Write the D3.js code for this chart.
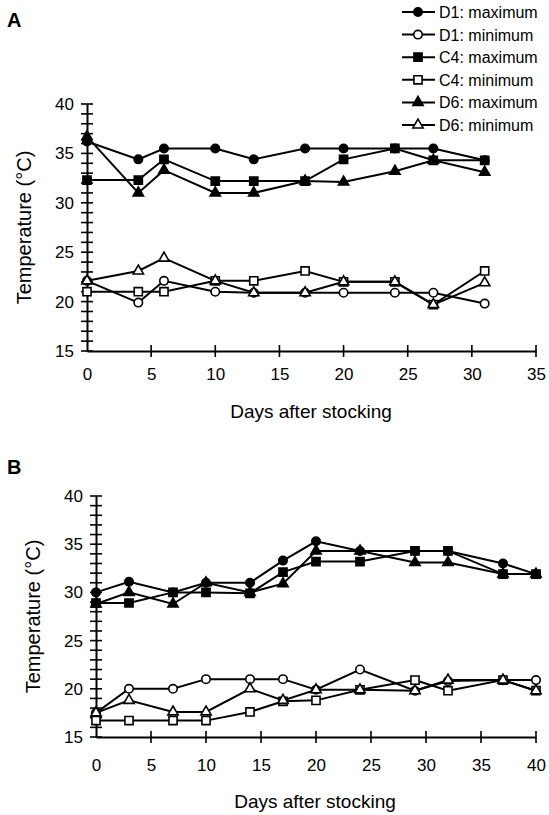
<!DOCTYPE html>
<html>
<head>
<meta charset="utf-8">
<script src="https://d3js.org/d3.v7.min.js"></script>
<style>
  body { margin: 0; background: #fff; }
  svg { font-family: "Liberation Sans", Arial, Helvetica, sans-serif; }
</style>
</head>
<body>
<div id="my_dataviz"></div>
<script>
// data
const seriesNames = ["D1: maximum", "D1: minimum", "C4: maximum", "C4: minimum", "D6: maximum", "D6: minimum"];
const seriesShapes = ["circle", "circle", "square", "square", "triangle", "triangle"];
const seriesFilled = [true, false, true, false, true, false];

// panel A
const daysA = [0, 4, 6, 10, 13, 17, 20, 24, 27, 31];
const aD1max = [36.2, 34.4, 35.5, 35.5, 34.4, 35.5, 35.5, 35.5, 35.5, 34.3];
const aD1min = [22.1, 19.9, 22.1, 21.0, 20.9, 20.9, 20.9, 20.9, 20.9, 19.8];
const aC4max = [32.3, 32.3, 34.4, 32.2, 32.2, 32.2, 34.4, 35.5, 34.3, 34.3];
const aC4min = [21.0, 21.0, 21.0, 22.1, 22.1, 23.1, 22.0, 22.0, 19.7, 23.1];
const aD6max = [36.7, 31.0, 33.3, 31.0, 31.0, 32.2, 32.1, 33.2, 34.3, 33.1];
const aD6min = [22.1, 23.1, 24.4, 22.1, 20.9, 20.9, 22.0, 22.0, 19.7, 21.9];

// panel B
const daysB = [0, 3, 7, 10, 14, 17, 20, 24, 29, 32, 37, 40];
const bD1max = [30.0, 31.1, 30.0, 31.0, 31.0, 33.3, 35.3, 34.3, 34.3, 34.3, 33.0, 31.9];
const bD1min = [17.5, 20.0, 20.0, 21.0, 21.0, 21.0, 19.9, 22.0, 19.8, 20.8, 20.9, 20.9];
const bC4max = [28.9, 28.9, 30.0, 30.0, 29.9, 32.1, 33.2, 33.2, 34.3, 34.3, 31.9, 31.9];
const bC4min = [16.7, 16.7, 16.7, 16.7, 17.6, 18.7, 18.8, 19.9, 20.9, 19.8, 20.9, 19.8];
const bD6max = [28.8, 30.0, 28.8, 31.0, 30.0, 30.9, 34.3, 34.3, 33.1, 33.1, 31.9, 31.9];
const bD6min = [17.5, 18.8, 17.6, 17.6, 20.0, 18.8, 19.9, 19.9, 19.8, 20.9, 20.9, 19.8];

const yTicks = [15, 20, 25, 30, 35, 40];
const xTicksA = [0, 5, 10, 15, 20, 25, 30, 35];
const xTicksB = [0, 5, 10, 15, 20, 25, 30, 35, 40];

const svg = d3.select("#my_dataviz")
  .append("svg")
  .attr("width", 549)
  .attr("height", 815);

function symbolFor(shape) {
  if (shape === "circle") return d3.symbol().type(d3.symbolCircle).size(56)();
  if (shape === "square") return d3.symbol().type(d3.symbolSquare).size(66)();
  return d3.symbol().type(d3.symbolTriangle).size(46)();
}

function drawPanel(opts) {
  const x = d3.scaleLinear().domain(opts.xDomain).range(opts.xRange);
  const y = d3.scaleLinear().domain([15, 40]).range(opts.yRange);
  const g = svg.append("g");

  // Y axis, major and minor ticks cross the axis line
  const yAxis = g.append("g")
    .attr("transform", `translate(${opts.xRange[0]},0)`)
    .call(d3.axisLeft(y).tickValues(yTicks).tickSize(0).tickPadding(13));
  yAxis.select(".domain").attr("stroke", "#000").attr("stroke-width", 2);
  yAxis.selectAll("text").attr("font-size", 17).attr("fill", "#000");
  g.append("g")
    .selectAll("line")
    .data(d3.range(15, 41))
    .join("line")
    .attr("x1", opts.xRange[0] - 6)
    .attr("x2", opts.xRange[0] + 6)
    .attr("y1", d => y(d))
    .attr("y2", d => y(d))
    .attr("stroke", "#000")
    .attr("stroke-width", 1.6);

  // X axis
  const xAxis = g.append("g")
    .attr("transform", `translate(0,${opts.yRange[0]})`)
    .call(d3.axisBottom(x).tickValues(opts.xTicks).tickSize(0).tickPadding(opts.xPad));
  xAxis.select(".domain").attr("stroke", "#000").attr("stroke-width", 2);
  xAxis.selectAll("text").attr("font-size", 17).attr("fill", "#000");
  g.append("g")
    .selectAll("line")
    .data(opts.xTicks.slice(1))
    .join("line")
    .attr("x1", d => x(d))
    .attr("x2", d => x(d))
    .attr("y1", opts.yRange[0] - 6)
    .attr("y2", opts.yRange[0] + 6)
    .attr("stroke", "#000")
    .attr("stroke-width", 1.6);

  // axis titles
  g.append("text")
    .attr("transform", `translate(${opts.yTitleX},${(opts.yRange[0] + opts.yRange[1]) / 2}) rotate(-90)`)
    .attr("text-anchor", "middle")
    .attr("font-size", 20)
    .text("Temperature (°C)");
  g.append("text")
    .attr("x", opts.xTitle[0])
    .attr("y", opts.xTitle[1])
    .attr("text-anchor", "middle")
    .attr("font-size", 19)
    .text("Days after stocking");

  // panel letter
  g.append("text")
    .attr("x", opts.letterPos[0])
    .attr("y", opts.letterPos[1])
    .attr("font-size", 20)
    .attr("font-weight", "bold")
    .text(opts.letter);

  // series
  const line = d3.line().x(d => x(d[0])).y(d => y(d[1]));
  opts.series.forEach((vals, i) => {
    const pts = opts.days.map((d, j) => [d, vals[j]]);
    g.append("path")
      .datum(pts)
      .attr("d", line)
      .attr("fill", "none")
      .attr("stroke", "#000")
      .attr("stroke-width", 2);
    g.append("g")
      .selectAll("path")
      .data(pts)
      .join("path")
      .attr("transform", d => `translate(${x(d[0])},${y(d[1])})`)
      .attr("d", symbolFor(seriesShapes[i]))
      .attr("fill", seriesFilled[i] ? "#000" : "#fff")
      .attr("stroke", "#000")
      .attr("stroke-width", 1.6);
  });
}

drawPanel({
  letter: "A", letterPos: [7, 27],
  days: daysA,
  series: [aD1max, aD1min, aC4max, aC4min, aD6max, aD6min],
  xDomain: [0, 35], xRange: [87, 536], yRange: [351, 104],
  xTicks: xTicksA, xPad: 17,
  yTitleX: 31, xTitle: [311, 418]
});

drawPanel({
  letter: "B", letterPos: [7, 474],
  days: daysB,
  series: [bD1max, bD1min, bC4max, bC4min, bD6max, bD6min],
  xDomain: [0, 40], xRange: [96, 536], yRange: [737, 496],
  xTicks: xTicksB, xPad: 22,
  yTitleX: 40, xTitle: [315, 808]
});

// legend
const legend = svg.append("g").attr("transform", "translate(402,12)");
seriesNames.forEach((name, i) => {
  const row = legend.append("g").attr("transform", `translate(0,${i * 22.6})`);
  row.append("line")
    .attr("x1", 0).attr("x2", 33)
    .attr("stroke", "#000").attr("stroke-width", 2);
  row.append("path")
    .attr("transform", "translate(16,0)")
    .attr("d", symbolFor(seriesShapes[i]))
    .attr("fill", seriesFilled[i] ? "#000" : "#fff")
    .attr("stroke", "#000")
    .attr("stroke-width", 1.6);
  row.append("text")
    .attr("x", 37)
    .attr("y", 6)
    .attr("font-size", 16)
    .text(name);
});
</script>
</body>
</html>
